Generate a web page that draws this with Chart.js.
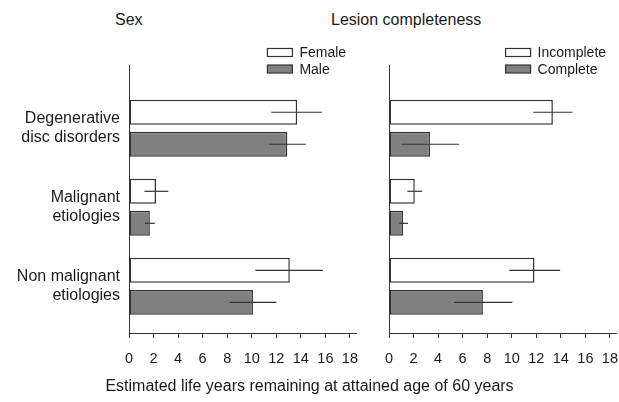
<!DOCTYPE html>
<html>
<head>
<meta charset="utf-8">
<script src="https://cdn.jsdelivr.net/npm/chart.js@4.4.1/dist/chart.umd.min.js"></script>
<style>
  html, body { margin: 0; padding: 0; background: #ffffff; }
  body { width: 619px; height: 402px; position: relative; overflow: hidden;
         font-family: "Liberation Sans", Arial, sans-serif; color: #1a1a1a; }
  canvas { position: absolute; top: 0; }
  #c1 { left: 0; }
  #c2 { left: 365px; }
  .ptitle { position: absolute; font-size: 16px; line-height: 16px; top: 12px; white-space: nowrap; }
  #xtitle { position: absolute; top: 378px; left: 0; width: 619px; text-align: center;
            font-size: 16px; line-height: 16px; white-space: nowrap; }
</style>
</head>
<body>
<div class="ptitle" style="left:115px;">Sex</div>
<div class="ptitle" style="left:331px;">Lesion completeness</div>
<canvas id="c1" width="370" height="402" style="width:370px;height:402px;"></canvas>
<canvas id="c2" width="265" height="402" style="width:265px;height:402px;"></canvas>
<div id="xtitle">Estimated life years remaining at attained age of 60 years</div>
<script>
// ---- Data ----
const categories = [["Degenerative", "disc disorders"], ["Malignant", "etiologies"], ["Non malignant", "etiologies"]];
const xTickValues = [0, 2, 4, 6, 8, 10, 12, 14, 16, 18];

const femaleValues = [13.7, 2.2, 13.1];
const femaleLow    = [11.6, 1.25, 10.3];
const femaleHigh   = [15.7, 3.2, 15.8];

const maleValues = [12.9, 1.7, 10.1];
const maleLow    = [11.4, 1.3, 8.2];
const maleHigh   = [14.4, 2.1, 12.0];

const incompleteValues = [13.35, 2.1, 11.85];
const incompleteLow    = [11.75, 1.5, 9.8];
const incompleteHigh   = [14.95, 2.7, 13.95];

const completeValues = [3.35, 1.15, 7.65];
const completeLow    = [1.0, 0.85, 5.3];
const completeHigh   = [5.7, 1.55, 10.05];

// ---- Styling ----
const FONT = '"Liberation Sans", Arial, sans-serif';
const INK = '#1a1a1a';
const LINE = '#333333';
const WHITE_FILL = '#ffffff';
const GREY_FILL = '#808080';

const toPoints = (vals) => vals.map((v, i) => ({ x: v, y: i }));

const errorBarPlugin = {
  id: 'errorBars',
  afterDatasetsDraw(chart) {
    const ctx = chart.ctx;
    const xs = chart.scales.x;
    ctx.save();
    ctx.strokeStyle = LINE;
    ctx.lineWidth = 1.2;
    chart.data.datasets.forEach((d, di) => {
      const meta = chart.getDatasetMeta(di);
      meta.data.forEach((bar, i) => {
        const x1 = xs.getPixelForValue(d.errLow[i]);
        const x2 = xs.getPixelForValue(d.errHigh[i]);
        ctx.beginPath();
        ctx.moveTo(x1, bar.y);
        ctx.lineTo(x2, bar.y);
        ctx.stroke();
      });
    });
    ctx.restore();
  }
};

const boxLegendPlugin = {
  id: 'boxLegend',
  afterDraw(chart) {
    const ctx = chart.ctx;
    const area = chart.chartArea;
    const ds = chart.data.datasets;
    ctx.save();
    ctx.font = '14px ' + FONT;
    const maxW = Math.max(...ds.map(d => ctx.measureText(d.label).width));
    const textX = area.right - 10 - maxW;
    const boxW = 25, boxH = 8, gap = 7;
    ds.forEach((d, i) => {
      const cy = area.top - 12.5 + i * 16.5;
      ctx.fillStyle = d.backgroundColor;
      ctx.fillRect(textX - gap - boxW, cy - boxH / 2, boxW, boxH);
      ctx.strokeStyle = LINE;
      ctx.lineWidth = 1.2;
      ctx.strokeRect(textX - gap - boxW, cy - boxH / 2, boxW, boxH);
      ctx.fillStyle = INK;
      ctx.textBaseline = 'middle';
      ctx.textAlign = 'left';
      ctx.fillText(d.label, textX, cy + 1);
    });
    ctx.restore();
  }
};

function makeDataset(label, values, low, high, fill) {
  return {
    label: label,
    data: toPoints(values),
    errLow: low,
    errHigh: high,
    backgroundColor: fill,
    borderColor: LINE,
    borderWidth: 1.5,
    borderSkipped: false,
    categoryPercentage: 0.81,
    barPercentage: 0.78
  };
}

function makeOptions(showLabels, yWidth, padRight) {
  return {
    indexAxis: 'y',
    responsive: false,
    animation: false,
    devicePixelRatio: 1,
    layout: { padding: { left: 0, right: padRight, top: 65, bottom: 0 } },
    plugins: { legend: { display: false }, tooltip: { enabled: false }, title: { display: false } },
    scales: {
      x: {
        type: 'linear',
        min: 0,
        max: 18.5,
        afterBuildTicks: (scale) => { scale.ticks = xTickValues.map(v => ({ value: v })); },
        afterFit: (scale) => { scale.height = 69; },
        ticks: {
          includeBounds: false,
          autoSkip: false,
          maxRotation: 0,
          padding: 12,
          color: INK,
          font: { family: FONT, size: 14.5 }
        },
        grid: { drawOnChartArea: false, drawTicks: true, tickLength: 5, color: LINE, lineWidth: 1 },
        border: { display: true, color: LINE, width: 1 }
      },
      y: {
        type: 'linear',
        offset: false,
        reverse: true,
        min: -0.8,
        max: 2.59,
        afterBuildTicks: (scale) => { scale.ticks = categories.map((c, i) => ({ value: i })); },
        afterFit: (scale) => { scale.width = yWidth; },
        ticks: {
          display: showLabels,
          autoSkip: false,
          padding: 9,
          color: INK,
          font: { family: FONT, size: 16, lineHeight: 1.2 },
          callback: (v) => categories[v]
        },
        grid: { drawOnChartArea: false, drawTicks: false, offset: false, color: LINE },
        border: { display: true, color: LINE, width: 1 }
      }
    }
  };
}

new Chart(document.getElementById('c1'), {
  type: 'bar',
  data: {
    datasets: [
      makeDataset('Female', femaleValues, femaleLow, femaleHigh, WHITE_FILL),
      makeDataset('Male', maleValues, maleLow, maleHigh, GREY_FILL)
    ]
  },
  options: makeOptions(true, 129, 0),
  plugins: [errorBarPlugin, boxLegendPlugin]
});

new Chart(document.getElementById('c2'), {
  type: 'bar',
  data: {
    datasets: [
      makeDataset('Incomplete', incompleteValues, incompleteLow, incompleteHigh, WHITE_FILL),
      makeDataset('Complete', completeValues, completeLow, completeHigh, GREY_FILL)
    ]
  },
  options: makeOptions(false, 24, 0),
  plugins: [errorBarPlugin, boxLegendPlugin]
});
</script>
</body>
</html>
